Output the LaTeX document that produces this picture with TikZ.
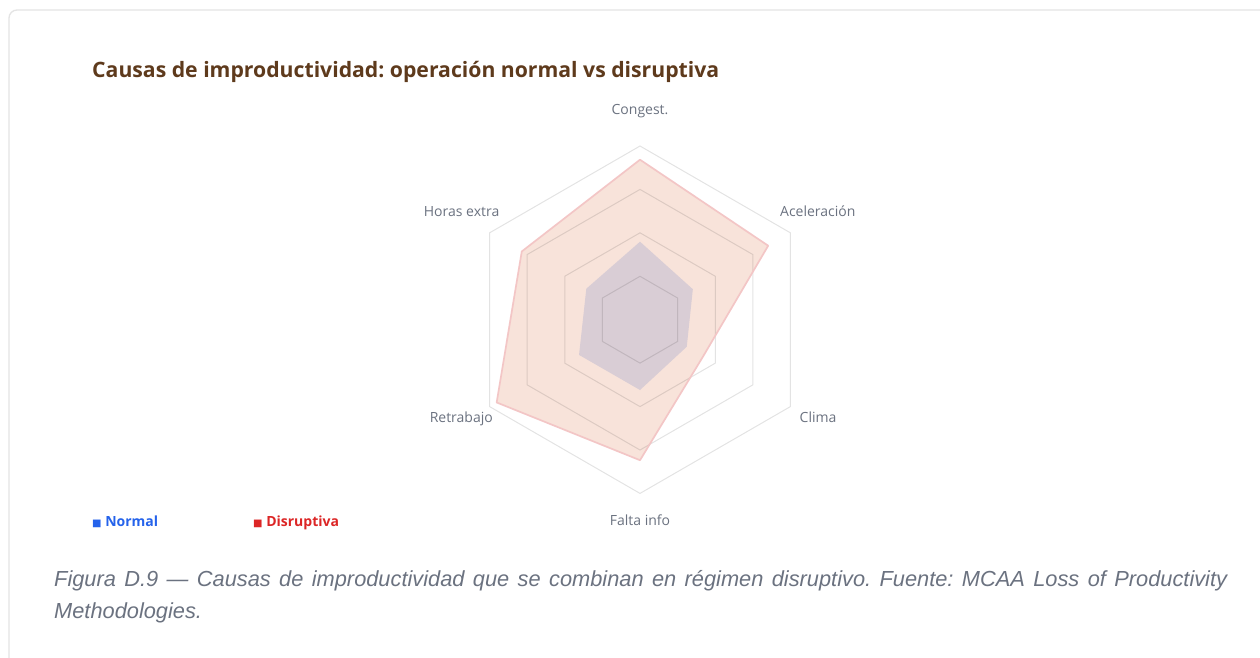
\documentclass[tikz,border=0pt]{standalone}
\usepackage{fontspec}
\setmainfont{Open Sans}
\newfontfamily\capfont{Liberation Sans}
\newfontfamily\symfont{DejaVu Sans}
\frenchspacing

\definecolor{titlebrown}{RGB}{94,58,28}
\definecolor{labelgray}{RGB}{107,114,128}
\definecolor{cardline}{RGB}{228,228,228}
\definecolor{normalblue}{RGB}{37,99,235}
\definecolor{disred}{RGB}{220,38,38}
\definecolor{normalfill}{RGB}{217,205,213}
\definecolor{disfill}{RGB}{248,227,218}
\definecolor{disline}{RGB}{243,198,198}

\tikzset{
  ring/.style={draw=black, draw opacity=0.11, line width=1pt},
  axislabel/.style={inner sep=0pt, text=labelgray, font=\fontsize{14}{17}\selectfont},
  legendentry/.style={anchor=base west, inner sep=0pt, font=\bfseries\fontsize{14}{17}\selectfont},
  captionline/.style={anchor=base west, inner sep=0pt, text=labelgray,
                      font=\capfont\itshape\fontsize{21.8}{26}\selectfont}
}

\begin{document}
\begin{tikzpicture}[x=1pt, y=1pt]
  \clip (0,0) rectangle (1260,-657);
  \fill[white] (0,0) rectangle (1260,-657);

  % card frame
  \draw[cardline, line width=1.3pt, rounded corners=8pt] (9,-10) rectangle (1300,-720);

  % title
  \node[anchor=base west, inner sep=0pt, text=titlebrown, font=\bfseries\fontsize{21.2}{25}\selectfont]
       (title) at (92,-77) {Causas de improductividad: operación normal vs disruptiva};

  \begin{scope}[shift={(640,-319.7)}]

    % disruptive series
    \fill[disfill] (90:160) -- (30:148) -- (-30:73) -- (-90:140.5) -- (210:165.5) -- (150:136.5) -- cycle;

    % normal series
    \fill[normalfill] (90:78) -- (30:61) -- (-30:54) -- (-90:70.3) -- (210:70.4) -- (150:62) -- cycle;

    % rings
    \draw[ring] (90:43.4) -- (30:43.4) -- (-30:43.4) -- (-90:43.4) -- (210:43.4) -- (150:43.4) -- cycle;
    \draw[ring] (90:86.9) -- (30:86.9) -- (-30:86.9) -- (-90:86.9) -- (210:86.9) -- (150:86.9) -- cycle;
    \draw[ring] (90:130.3) -- (30:130.3) -- (-30:130.3) -- (-90:130.3) -- (210:130.3) -- (150:130.3) -- cycle;
    \draw[ring] (90:173.7) -- (30:173.7) -- (-30:173.7) -- (-90:173.7) -- (210:173.7) -- (150:173.7) -- cycle;

    \draw[disline, line width=1.7pt, line join=round]
         (90:160) -- (30:148) -- (-30:73) -- (-90:140.5) -- (210:165.5) -- (150:136.5) -- cycle;

  \end{scope}

  % axis labels
  \node[axislabel, anchor=base] (congest) at (640,-114) {Congest.};
  \node[axislabel, anchor=base west] (acel) at (780,-216.7) {Aceleración};
  \node[axislabel, anchor=base west] (clima) at (799.5,-422.7) {Clima};
  \node[axislabel, anchor=base] (falta) at (640,-525) {Falta info};
  \node[axislabel, anchor=base east] (retrabajo) at (493,-422.7) {Retrabajo};
  \node[axislabel, anchor=base east] (horas) at (499.5,-216.7) {Horas extra};

  % legend
  \node[legendentry, text=normalblue] (lgnormal) at (92,-526.7)
       {{\symfont\fontsize{10}{12}\selectfont ■} Normal};
  \node[legendentry, text=disred] (lgdisr) at (253,-526.7)
       {{\symfont\fontsize{10}{12}\selectfont ■} Disruptiva};

  % caption
  \node[captionline] (caption1) at (54,-586.7)
       {\makebox[1173pt][s]{Figura D.9 — Causas de improductividad que se combinan en régimen disruptivo. Fuente: MCAA Loss of Productivity}};
  \node[captionline] (caption2) at (54,-618) {Methodologies.};

\end{tikzpicture}
\end{document}
